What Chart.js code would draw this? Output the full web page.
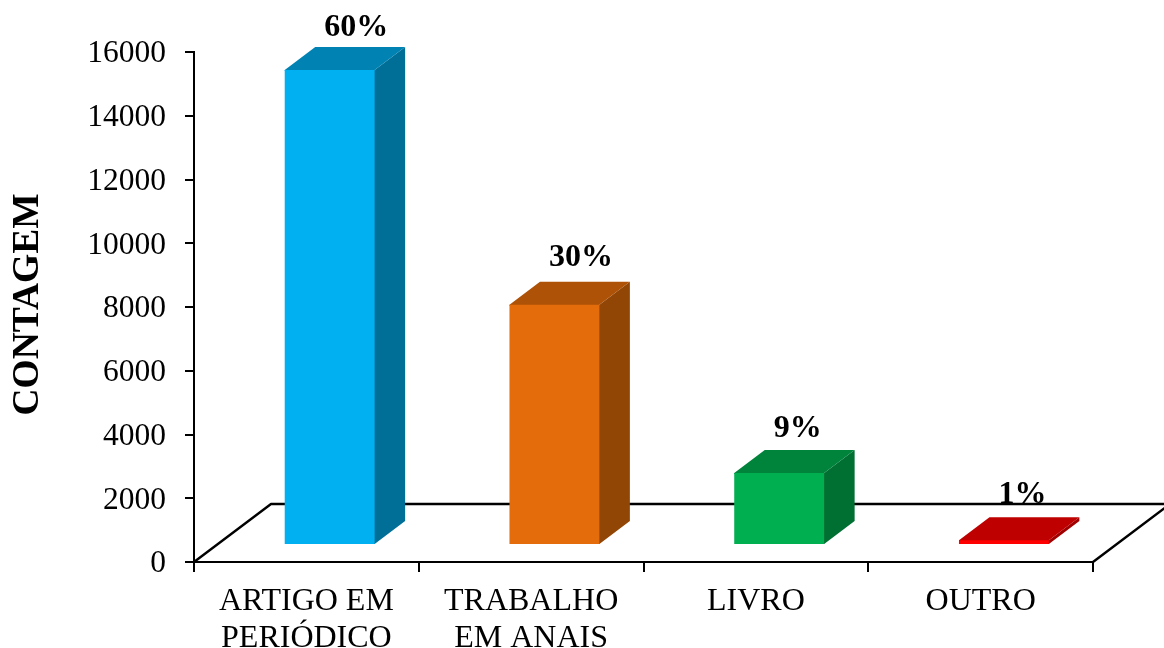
<!DOCTYPE html>
<html>
<head>
<meta charset="utf-8">
<style>
  html, body { margin: 0; padding: 0; background: #fff; }
  #wrap { width: 1164px; height: 648px; }
</style>
<script src="https://cdn.jsdelivr.net/npm/chart.js@4"></script>
</head>
<body>
<div id="wrap"><canvas id="chart" width="1164" height="648"></canvas></div>
<script>
const categories = [['ARTIGO EM', 'PERIÓDICO'], ['TRABALHO', 'EM ANAIS'], 'LIVRO', 'OUTRO'];
const counts = [14900, 7540, 2260, 150];
const shares = ['60%', '30%', '9%', '1%'];
const yTicks = [0, 2000, 4000, 6000, 8000, 10000, 12000, 14000, 16000];
const yAxisTitle = 'CONTAGEM';

const frontColors = ['#00B0F0', '#E46C0A', '#00B050', '#FF0000'];
const topColors = ['#0083B3', '#AE5207', '#00843C', '#BF0000'];
const sideColors = ['#006F98', '#924606', '#006F32', '#A10000'];

const SERIF = '"Liberation Serif", "Times New Roman", serif';

// Pseudo-3D look: a floor plane behind the columns, columns extruded back and to the right.
const floorDepth = { x: 77, y: -58 };
const barDepth = { x: 30.5, y: -23 };
const barShift = { x: 23.3, y: -17 };

const extrusion = {
  id: 'extrusion',
  beforeDatasetsDraw(chart) {
    const { ctx, chartArea: a } = chart;
    ctx.save();
    ctx.strokeStyle = '#000';
    ctx.lineWidth = 2.4;
    ctx.lineJoin = 'round';
    ctx.beginPath();
    ctx.moveTo(a.left, a.bottom);
    ctx.lineTo(a.left + floorDepth.x, a.bottom + floorDepth.y);
    ctx.lineTo(a.right + floorDepth.x, a.bottom + floorDepth.y);
    ctx.lineTo(a.right, a.bottom);
    ctx.stroke();
    ctx.restore();
  },
  beforeDatasetDraw(chart, args) {
    const { ctx } = chart;
    ctx.save();
    ctx.translate(barShift.x, barShift.y);
    args.meta.data.forEach((bar, i) => {
      const half = bar.width / 2;
      const l = bar.x - half, r = bar.x + half, t = bar.y, b = bar.base;
      // Both faces tuck slightly under the front face so no seam shows through.
      ctx.fillStyle = sideColors[i];
      ctx.beginPath();
      ctx.moveTo(r - 1, t);
      ctx.lineTo(r, t);
      ctx.lineTo(r + barDepth.x, t + barDepth.y);
      ctx.lineTo(r + barDepth.x, b + barDepth.y);
      ctx.lineTo(r, b);
      ctx.lineTo(r - 1, b);
      ctx.closePath();
      ctx.fill();
      ctx.fillStyle = topColors[i];
      ctx.beginPath();
      ctx.moveTo(l, t + 1);
      ctx.lineTo(l, t);
      ctx.lineTo(l + barDepth.x, t + barDepth.y);
      ctx.lineTo(r + barDepth.x, t + barDepth.y);
      ctx.lineTo(r, t);
      ctx.lineTo(r, t + 1);
      ctx.closePath();
      ctx.fill();
    });
  },
  afterDatasetDraw(chart) {
    chart.ctx.restore();
  },
  afterDraw(chart) {
    const { ctx } = chart;
    const meta = chart.getDatasetMeta(0);
    const rise = [34, 39, 36, 37];
    ctx.save();
    ctx.fillStyle = '#000';
    ctx.font = 'bold 32px ' + SERIF;
    ctx.textAlign = 'left';
    ctx.textBaseline = 'alphabetic';
    meta.data.forEach((bar, i) => {
      ctx.fillText(shares[i], bar.x + barShift.x - 5.5, bar.y + barShift.y - rise[i]);
    });
    ctx.restore();

    // Rotated axis caption, centred a little above the middle of the plot.
    ctx.save();
    ctx.fillStyle = '#000';
    ctx.font = 'bold 37.5px ' + SERIF;
    ctx.textAlign = 'center';
    ctx.textBaseline = 'middle';
    ctx.translate(28, (chart.chartArea.top + chart.chartArea.bottom) / 2 - 2.5);
    ctx.rotate(-Math.PI / 2);
    ctx.fillText(yAxisTitle, 0, 0);
    ctx.restore();
  }
};

new Chart(document.getElementById('chart'), {
  type: 'bar',
  data: {
    labels: categories,
    datasets: [{
      data: counts,
      backgroundColor: frontColors,
      borderWidth: 0,
      categoryPercentage: 0.4,
      barPercentage: 1,
      clip: false
    }]
  },
  plugins: [extrusion],
  options: {
    responsive: false,
    animation: false,
    events: [],
    layout: { padding: { top: 52, right: 71, bottom: 0, left: 0 } },
    plugins: { legend: { display: false }, title: { display: false }, tooltip: { enabled: false } },
    scales: {
      x: {
        afterFit(scale) { scale.height = 86; },
        border: { display: true, color: '#000', width: 2 },
        grid: { display: true, drawOnChartArea: false, drawTicks: true, color: '#000', lineWidth: 2, tickLength: 10 },
        ticks: {
          color: '#000',
          padding: 11,
          maxRotation: 0,
          autoSkip: false,
          font: { family: SERIF, size: 32, lineHeight: 1.16 }
        }
      },
      y: {
        min: 0,
        max: 16000,
        afterFit(scale) { scale.width = 194; },
        afterBuildTicks(scale) { scale.ticks = yTicks.map(value => ({ value })); },
        border: { display: true, color: '#000', width: 2 },
        grid: { display: true, drawOnChartArea: false, drawTicks: true, color: '#000', lineWidth: 2, tickLength: 9 },
        ticks: {
          color: '#000',
          padding: 19,
          labelOffset: 2,
          font: { family: SERIF, size: 31.5 },
          callback: value => String(value)
        }
      }
    }
  }
});
</script>
</body>
</html>
